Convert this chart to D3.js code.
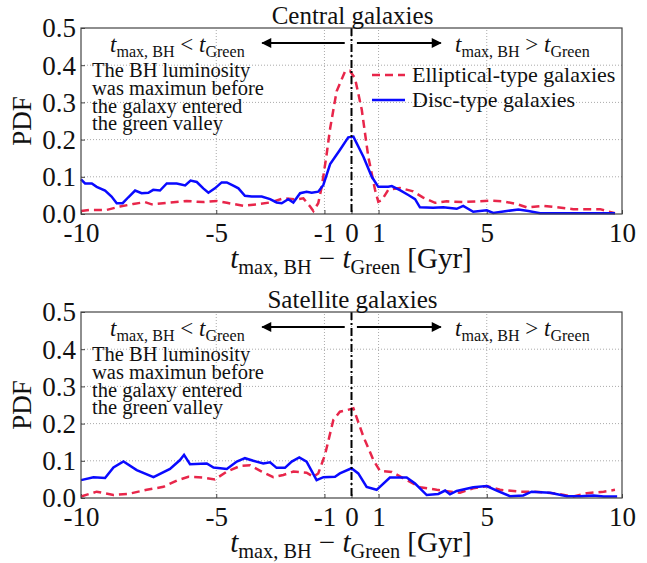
<!DOCTYPE html>
<html><head><meta charset="utf-8">
<script src="https://cdn.jsdelivr.net/npm/d3@7"></script>
<style>body{margin:0;background:#fff}svg{display:block}</style>
</head><body>
<script>
const panelTitles = ["Central galaxies", "Satellite galaxies"];
const xTicks = [-10, -5, -1, 0, 1, 5, 10];
const xTickLabels = ["-10", "-5", "-1", "0", "1", "5", "10"];
const yTicks = [0, 0.1, 0.2, 0.3, 0.4, 0.5];
const yTickLabels = ["0.0", "0.1", "0.2", "0.3", "0.4", "0.5"];
const seriesNames = ["Elliptical-type galaxies", "Disc-type galaxies"];
const noteLines = ["The BH luminosity", "was maximun before", "the galaxy entered", "the green valley"];

const centralEll = [[-10,0.008],[-9.67,0.011],[-9.05,0.011],[-8.56,0.02],[-8.07,0.027],[-7.63,0.032],[-7.39,0.026],[-6.83,0.03],[-6.1,0.035],[-5.48,0.032],[-4.98,0.035],[-4.61,0.03],[-4.0,0.022],[-3.51,0.026],[-3.01,0.031],[-2.52,0.042],[-2.03,0.039],[-1.78,0.042],[-1.53,0.02],[-1.41,0.008],[-1.23,0.029],[-1.1,0.073],[-0.92,0.16],[-0.79,0.23],[-0.55,0.33],[-0.24,0.383],[-0.06,0.385],[0.13,0.365],[0.38,0.28],[0.62,0.154],[0.87,0.065],[0.99,0.033],[1.12,0.037],[1.36,0.065],[1.79,0.07],[2.28,0.061],[2.65,0.044],[3.09,0.03],[3.52,0.034],[4.13,0.032],[4.63,0.034],[5.12,0.036],[5.61,0.034],[6.1,0.027],[6.48,0.018],[7.09,0.022],[7.59,0.018],[8.2,0.013],[9.19,0.013],[9.74,0.002]];
const centralDisc = [[-10,0.093],[-9.85,0.082],[-9.6,0.082],[-9.42,0.073],[-9.11,0.063],[-8.87,0.047],[-8.68,0.029],[-8.46,0.029],[-8.25,0.045],[-8.0,0.063],[-7.76,0.056],[-7.51,0.057],[-7.33,0.065],[-7.08,0.063],[-6.83,0.082],[-6.46,0.082],[-6.15,0.077],[-5.95,0.09],[-5.72,0.086],[-5.48,0.069],[-5.29,0.057],[-5.05,0.069],[-4.8,0.085],[-4.61,0.085],[-4.37,0.076],[-4.18,0.069],[-3.94,0.049],[-3.69,0.047],[-3.32,0.047],[-3.01,0.04],[-2.77,0.031],[-2.58,0.029],[-2.34,0.04],[-2.15,0.031],[-1.9,0.056],[-1.66,0.06],[-1.47,0.057],[-1.23,0.06],[-1.04,0.078],[-0.79,0.134],[-0.43,0.172],[-0.12,0.206],[0.07,0.208],[0.44,0.154],[0.75,0.1],[0.99,0.073],[1.36,0.073],[1.49,0.075],[1.79,0.064],[2.1,0.051],[2.35,0.04],[2.53,0.018],[3.02,0.017],[3.39,0.018],[3.89,0.014],[4.13,0.022],[4.5,0.006],[5.0,0.01],[5.24,0.003],[5.74,0.008],[6.17,0.012],[6.54,0.008],[6.97,0.002],[7.46,0.002],[8.7,0.002],[9.74,0.002]];
const satelliteEll = [[-10,0.004],[-9.42,0.017],[-8.8,0.008],[-8.25,0.011],[-7.57,0.022],[-6.95,0.03],[-6.46,0.047],[-6.03,0.057],[-5.48,0.055],[-5.05,0.05],[-4.61,0.071],[-4.12,0.086],[-3.75,0.088],[-3.32,0.071],[-2.89,0.056],[-2.52,0.062],[-2.15,0.071],[-1.66,0.068],[-1.41,0.057],[-1.23,0.066],[-0.98,0.116],[-0.67,0.21],[-0.43,0.232],[-0.18,0.236],[0.07,0.241],[0.44,0.165],[0.81,0.102],[1.05,0.073],[1.49,0.07],[1.92,0.053],[2.53,0.029],[3.15,0.022],[4.01,0.014],[4.5,0.026],[5.0,0.032],[5.49,0.022],[6.22,0.017],[6.72,0.017],[7.46,0.013],[8.2,0.004],[8.7,0.013],[9.32,0.017],[9.74,0.022]];
const satelliteDisc = [[-10,0.048],[-9.54,0.056],[-9.11,0.054],[-8.8,0.082],[-8.43,0.098],[-7.94,0.075],[-7.32,0.056],[-6.71,0.078],[-6.34,0.102],[-6.19,0.116],[-5.97,0.091],[-5.35,0.093],[-5.1,0.082],[-4.61,0.078],[-4.24,0.098],[-3.94,0.107],[-3.63,0.1],[-3.26,0.093],[-3.01,0.096],[-2.77,0.081],[-2.46,0.081],[-2.21,0.098],[-1.93,0.109],[-1.66,0.098],[-1.29,0.048],[-1.04,0.056],[-0.61,0.057],[-0.43,0.066],[0.0,0.08],[0.25,0.066],[0.56,0.03],[0.93,0.022],[1.42,0.055],[2.04,0.055],[2.35,0.039],[2.78,0.008],[3.21,0.011],[3.46,0.02],[3.64,0.01],[3.89,0.019],[4.5,0.029],[5.0,0.032],[5.37,0.02],[5.86,0.005],[6.35,0.007],[6.66,0.017],[7.34,0.014],[7.96,0.005],[8.45,0.005],[8.95,0.007],[9.32,0.004],[9.82,0.004]];

const W = 647, H = 563;
const FONT = "'Liberation Serif','DejaVu Serif',serif";
const RED = "#e8264a", BLUE = "#0a0aff";
const svg = d3.select("body").append("svg").attr("width", W).attr("height", H)
  .style("font-family", FONT);

const defs = svg.append("defs");
defs.append("marker").attr("id", "ah").attr("viewBox", "0 0 10 10")
  .attr("refX", 9).attr("refY", 5).attr("markerWidth", 12).attr("markerHeight", 10)
  .attr("markerUnits", "userSpaceOnUse").attr("orient", "auto")
  .append("path").attr("d", "M0,0 L10,5 L0,10 Z").attr("fill", "#000");

function mathLabel(g, x, y, size, parts, anchor) {
  const t = g.append("text").attr("x", x).attr("y", y).attr("text-anchor", anchor || "start")
    .attr("font-size", size).attr("fill", "#111");
  parts.forEach(p => {
    const s = t.append("tspan").text(p.t);
    if (p.it) s.attr("font-style", "italic");
    if (p.sub) s.attr("font-size", size * 0.7).attr("dy", size * 0.2);
    if (p.up) s.attr("dy", -size * 0.2);
  });
  return t;
}

const panels = [
  {top: 28, title: panelTitles[0], ell: centralEll, disc: centralDisc, legend: true},
  {top: 312, title: panelTitles[1], ell: satelliteEll, disc: satelliteDisc, legend: false}
];
const left = 81, right = 622, ph = 186;

panels.forEach(P => {
  const x = d3.scaleLinear().domain([-10, 10]).range([left, right]);
  const y = d3.scaleLinear().domain([0, 0.5]).range([P.top + ph, P.top]);
  const g = svg.append("g");

  // grid
  g.append("g").selectAll("line").data(xTicks.filter(v => v > -10 && v < 10)).join("line")
    .attr("x1", d => x(d)).attr("x2", d => x(d)).attr("y1", y(0)).attr("y2", y(0.5))
    .attr("stroke", "#aaa").attr("stroke-width", 1).attr("stroke-dasharray", "1,2");
  g.append("g").selectAll("line").data(yTicks.filter(v => v > 0 && v < 0.5)).join("line")
    .attr("x1", left).attr("x2", right).attr("y1", d => y(d)).attr("y2", d => y(d))
    .attr("stroke", "#aaa").attr("stroke-width", 1).attr("stroke-dasharray", "1,2");

  // axes
  const ax = g.append("g").attr("transform", `translate(0,${y(0)})`)
    .call(d3.axisBottom(x).tickValues(xTicks).tickFormat((d, i) => xTickLabels[i]).tickSizeInner(-4).tickSizeOuter(0).tickPadding(6));
  ax.select(".domain").remove();
  ax.selectAll("line").attr("stroke", "#444");
  ax.selectAll("text").attr("font-size", 27).attr("fill", "#111").attr("font-family", FONT).attr("dy", "0.8em");
  const ay = g.append("g").attr("transform", `translate(${left},0)`)
    .call(d3.axisLeft(y).tickValues(yTicks).tickFormat((d, i) => yTickLabels[i]).tickSizeInner(-4).tickSizeOuter(0).tickPadding(5));
  ay.select(".domain").remove();
  ay.selectAll("line").attr("stroke", "#444");
  ay.selectAll("text").attr("font-size", 27).attr("fill", "#111").attr("font-family", FONT).attr("dy", "0.33em");

  // lines
  const line = d3.line().x(d => x(d[0])).y(d => y(d[1]));
  g.append("path").datum(P.ell).attr("d", line).attr("fill", "none").attr("stroke", RED)
    .attr("stroke-width", 2.5).attr("stroke-dasharray", "8,5");
  g.append("path").datum(P.disc).attr("d", line).attr("fill", "none").attr("stroke", BLUE)
    .attr("stroke-width", 2.5);

  // vertical dash-dot at 0
  g.append("line").attr("x1", x(0)).attr("x2", x(0)).attr("y1", y(0.5)).attr("y2", y(0))
    .attr("stroke", "#000").attr("stroke-width", 2).attr("stroke-dasharray", "8,3,2,3");

  // frame
  g.append("rect").attr("x", left).attr("y", P.top).attr("width", right - left).attr("height", ph)
    .attr("fill", "none").attr("stroke", "#444").attr("stroke-width", 1.2);

  // title
  g.append("text").attr("x", x(0) + 1).attr("y", P.top - 4).attr("text-anchor", "middle")
    .attr("font-size", 25).attr("fill", "#111").text(P.title);

  // arrows
  const ay0 = P.top + 15;
  g.append("line").attr("x1", x(-0.25)).attr("x2", x(-3.3)).attr("y1", ay0).attr("y2", ay0)
    .attr("stroke", "#000").attr("stroke-width", 2).attr("marker-end", "url(#ah)");
  g.append("line").attr("x1", x(0.2)).attr("x2", x(3.3)).attr("y1", ay0).attr("y2", ay0)
    .attr("stroke", "#000").attr("stroke-width", 2).attr("marker-end", "url(#ah)");
  mathLabel(g, 110, P.top + 24, 23, [{t: "t", it: true}, {t: "max, BH", sub: true}, {t: " < ", up: true}, {t: "t", it: true}, {t: "Green", sub: true}]);
  mathLabel(g, 455, P.top + 24, 23, [{t: "t", it: true}, {t: "max, BH", sub: true}, {t: " > ", up: true}, {t: "t", it: true}, {t: "Green", sub: true}]);

  // note
  noteLines.forEach((s, i) => {
    g.append("text").attr("x", 92).attr("y", P.top + 49 + i * 17.8).attr("font-size", 20.5)
      .attr("fill", "#111").text(s);
  });

  // y label
  g.append("text").attr("transform", `translate(31,${P.top + 93}) rotate(-90)`).attr("text-anchor", "middle")
    .attr("font-size", 27).attr("fill", "#111").text("PDF");

  // x label
  mathLabel(g, 351, P.top + ph + 54, 29, [{t: "t", it: true}, {t: "max, BH", sub: true}, {t: " − ", up: true}, {t: "t", it: true}, {t: "Green", sub: true}, {t: " [Gyr]", up: true}], "middle");

  // legend
  if (P.legend) {
    const items = [{n: seriesNames[0], c: RED, dash: "8,5", yy: P.top + 47}, {n: seriesNames[1], c: BLUE, dash: null, yy: P.top + 72}];
    items.forEach(it => {
      const l = g.append("line").attr("x1", 372).attr("x2", 405).attr("y1", it.yy).attr("y2", it.yy)
        .attr("stroke", it.c).attr("stroke-width", 2.5);
      if (it.dash) l.attr("stroke-dasharray", it.dash);
      g.append("text").attr("x", 412).attr("y", it.yy + 7).attr("font-size", 22).attr("fill", "#111").text(it.n);
    });
  }
});
</script>
</body></html>
